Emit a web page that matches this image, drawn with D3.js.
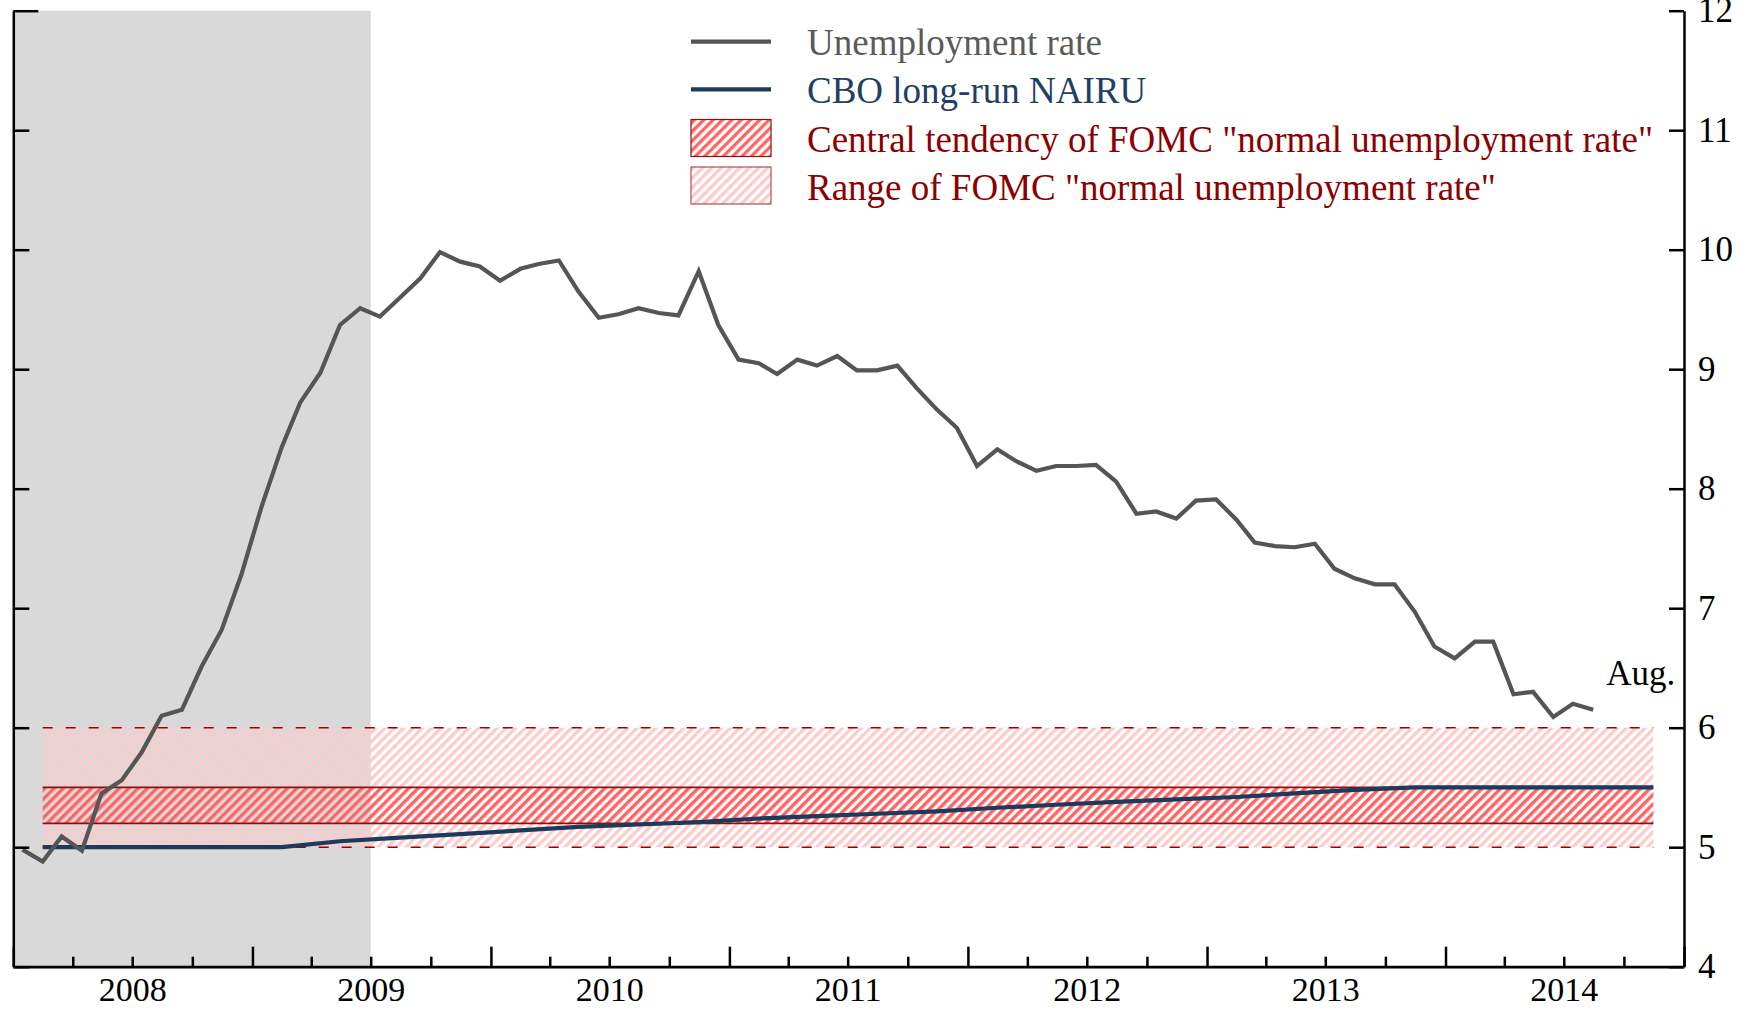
<!DOCTYPE html>
<html>
<head>
<meta charset="utf-8">
<script src="https://cdn.jsdelivr.net/npm/d3@7"></script>
<style>
  html, body { margin: 0; padding: 0; background: #fff; }
  svg { display: block; }
  text { font-family: "Liberation Serif", "Times New Roman", serif; }
</style>
</head>
<body>
<svg id="chart" width="1742" height="1009"></svg>
<script>
// ---------------- DATA ----------------
// Monthly civilian unemployment rate, Jan 2008 – Aug 2014 (percent)
const unempStart = [2008, 0];
const unemployment = [
  4.98, 4.88, 5.09, 4.97, 5.45, 5.56, 5.79, 6.10, 6.15, 6.51, 6.82, 7.28,
  7.85, 8.35, 8.72, 8.97, 9.37, 9.51, 9.44, 9.60, 9.76, 9.98, 9.90, 9.86,
  9.74, 9.84, 9.88, 9.91, 9.65, 9.43, 9.46, 9.51, 9.47, 9.45, 9.82, 9.37,
  9.08, 9.05, 8.96, 9.08, 9.03, 9.11, 8.99, 8.99, 9.03, 8.84, 8.66, 8.51,
  8.19, 8.33, 8.23, 8.15, 8.19, 8.19, 8.20, 8.06, 7.79, 7.81, 7.75, 7.90,
  7.91, 7.74, 7.55, 7.52, 7.51, 7.54, 7.33, 7.25, 7.20, 7.20, 6.97, 6.68,
  6.58, 6.72, 6.72, 6.28, 6.30, 6.09, 6.20, 6.15
];
// Quarterly CBO long-run NAIRU, 2008Q1 – 2014Q4 (percent)
const nairuStart = [2008, 0];
const nairu = [
  5.00, 5.00, 5.00, 5.00,
  5.00, 5.05, 5.08, 5.11,
  5.14, 5.17, 5.19, 5.21,
  5.24, 5.26, 5.28, 5.30,
  5.33, 5.355, 5.38, 5.40,
  5.42, 5.45, 5.48, 5.50,
  5.50, 5.50, 5.50, 5.50
];
// FOMC "normal unemployment rate": span (mid 2008Q1 – mid 2014Q4)
const fomcDates = ["2008-02-15", "2014-11-15"];
const rangeLow  = [5.0, 5.0];
const rangeHigh = [6.0, 6.0];
const ctLow     = [5.2, 5.2];
const ctHigh    = [5.5, 5.5];
// Recession shading
const recession = ["2008-01-01", "2009-07-01"];
// Axis
const yTicks = [4, 5, 6, 7, 8, 9, 10, 11, 12];
const yearLabels = [2008, 2009, 2010, 2011, 2012, 2013, 2014];
const legendItems = [
  "Unemployment rate",
  "CBO long-run NAIRU",
  "Central tendency of FOMC \"normal unemployment rate\"",
  "Range of FOMC \"normal unemployment rate\""
];
const endLabel = "Aug.";

// ---------------- LAYOUT ----------------
const L = 13.3, R = 1684, T = 10.7, B = 966.7;
const svg = d3.select("#chart");
const parse = d3.utcParse("%Y-%m-%d");

const x = d3.scaleUtc()
  .domain([Date.UTC(2008, 0, 1), Date.UTC(2015, 0, 1)])
  .range([L, R]);
const y = d3.scaleLinear().domain([4, 12]).range([B, T]);

const unempData = unemployment.map((v, i) => ({
  date: new Date(Date.UTC(unempStart[0], unempStart[1] + i, 15)), v }));
const nairuData = nairu.map((v, i) => ({
  date: new Date(Date.UTC(nairuStart[0], nairuStart[1] + i * 3 + 1, 15)), v }));
const bandData = fomcDates.map((d, i) => ({
  date: parse(d), rl: rangeLow[i], rh: rangeHigh[i], cl: ctLow[i], ch: ctHigh[i] }));

// patterns
const defs = svg.append("defs");
const P = 6.6;
function hatch(id, color) {
  const p = defs.append("pattern")
    .attr("id", id)
    .attr("patternUnits", "userSpaceOnUse")
    .attr("width", P).attr("height", P)
    .attr("patternTransform", "rotate(45)");
  p.append("rect").attr("x", 0).attr("y", 0)
    .attr("width", P / 2).attr("height", P).attr("fill", color);
}
hatch("hatchRange", "#ffcaca");
hatch("hatchCT", "#ff6464");

// recession shading
svg.append("rect")
  .attr("x", x(parse(recession[0])))
  .attr("y", T)
  .attr("width", x(parse(recession[1])) - x(parse(recession[0])))
  .attr("height", B - T)
  .attr("fill", "#d9d9d9");

// bands
const area = (lo, hi) => d3.area().x(d => x(d.date)).y0(d => y(d[lo])).y1(d => y(d[hi]));
svg.append("path").attr("d", area("rl", "rh")(bandData))
  .attr("fill", "url(#hatchRange)");
svg.append("path").attr("d", area("cl", "ch")(bandData))
  .attr("fill", "url(#hatchCT)");

const hline = key => d3.line().x(d => x(d.date)).y(d => y(d[key]))(bandData);
["rl", "rh"].forEach(k => svg.append("path").attr("d", hline(k))
  .attr("fill", "none").attr("stroke", "#9a0000").attr("stroke-width", 1.6)
  .attr("stroke-dasharray", "10,13"));
["cl", "ch"].forEach(k => svg.append("path").attr("d", hline(k))
  .attr("fill", "none").attr("stroke", "#8b1010").attr("stroke-width", 1.7));

// lines
const line = d3.line().x(d => x(d.date)).y(d => y(d.v));
svg.append("path").datum(nairuData).attr("d", line)
  .attr("fill", "none").attr("stroke", "#1b3a5c").attr("stroke-width", 4.2)
  .attr("stroke-linejoin", "round");
svg.append("path").datum(unempData).attr("d", line)
  .attr("fill", "none").attr("stroke", "#555555").attr("stroke-width", 4.2)
  .attr("stroke-linejoin", "miter");

// end label
const last = unempData[unempData.length - 1];
svg.append("text").attr("x", x(last.date) + 82).attr("y", 685)
  .attr("text-anchor", "end").attr("font-size", 35).attr("fill", "#000")
  .text(endLabel);

// ---------------- AXES ----------------
// left axis (ticks inward, no labels)
const gL = svg.append("g").attr("transform", `translate(${L},0)`)
  .call(d3.axisLeft(y).tickValues(yTicks).tickSizeInner(-16).tickSizeOuter(0).tickFormat(""));
gL.selectAll(".tick line").attr("stroke-width", 2.5);
gL.selectAll(".tick").filter(d => d === 12).select("line").attr("x2", 25);
gL.select(".domain").attr("stroke-width", 2.5);

// right axis (ticks inward, labels outside)
const gR = svg.append("g").attr("transform", `translate(${R},0)`)
  .call(d3.axisRight(y).tickValues(yTicks).tickSizeInner(-15).tickSizeOuter(0).tickPadding(14).tickFormat(d3.format("d")));
gR.selectAll(".tick line").attr("stroke-width", 2.5);
gR.select(".domain").attr("stroke-width", 2.5);
gR.selectAll("text").attr("font-size", 35).attr("font-family", "Liberation Serif, serif").attr("fill", "#000");

// bottom axis: quarterly ticks, taller at year start
const gB = svg.append("g").attr("transform", `translate(0,${B})`)
  .call(d3.axisBottom(x).ticks(d3.utcMonth.every(3)).tickSizeInner(-10).tickSizeOuter(0).tickFormat(""));
gB.selectAll(".tick line").attr("stroke-width", 2.5)
  .attr("y2", d => d.getUTCMonth() === 0 ? -20 : -10);
gB.select(".domain").attr("stroke-width", 2.8);

// year labels at mid-year
const gY = svg.append("g").attr("transform", `translate(0,${B})`)
  .call(d3.axisBottom(x)
    .tickValues(yearLabels.map(yr => new Date(Date.UTC(yr, 6, 1))))
    .tickSize(0).tickPadding(10).tickFormat(d3.utcFormat("%Y")));
gY.select(".domain").remove();
gY.selectAll("text").attr("font-size", 34).attr("font-family", "Liberation Serif, serif").attr("fill", "#000");

// ---------------- LEGEND ----------------
const lgX0 = 691, lgX1 = 771, lgTextX = 807;
const lg = svg.append("g");
lg.append("line").attr("x1", lgX0).attr("x2", lgX1).attr("y1", 41.7).attr("y2", 41.7)
  .attr("stroke", "#555555").attr("stroke-width", 4.2);
lg.append("line").attr("x1", lgX0).attr("x2", lgX1).attr("y1", 89.3).attr("y2", 89.3)
  .attr("stroke", "#1b3a5c").attr("stroke-width", 4.2);
lg.append("rect").attr("x", lgX0).attr("y", 119.5).attr("width", lgX1 - lgX0).attr("height", 37)
  .attr("fill", "url(#hatchCT)").attr("stroke", "#8b1010").attr("stroke-width", 1.2);
lg.append("rect").attr("x", lgX0).attr("y", 167).attr("width", lgX1 - lgX0).attr("height", 37)
  .attr("fill", "url(#hatchRange)").attr("stroke", "#b05050").attr("stroke-width", 1.2);
const lgColors = ["#5a5a5a", "#1f3f63", "#8b0000", "#8b0000"];
const lgBase = [55, 102.5, 152, 199.5];
legendItems.forEach((t, i) => {
  lg.append("text").attr("x", lgTextX).attr("y", lgBase[i])
    .attr("font-size", 37).attr("fill", lgColors[i]).text(t);
});
</script>
</body>
</html>
